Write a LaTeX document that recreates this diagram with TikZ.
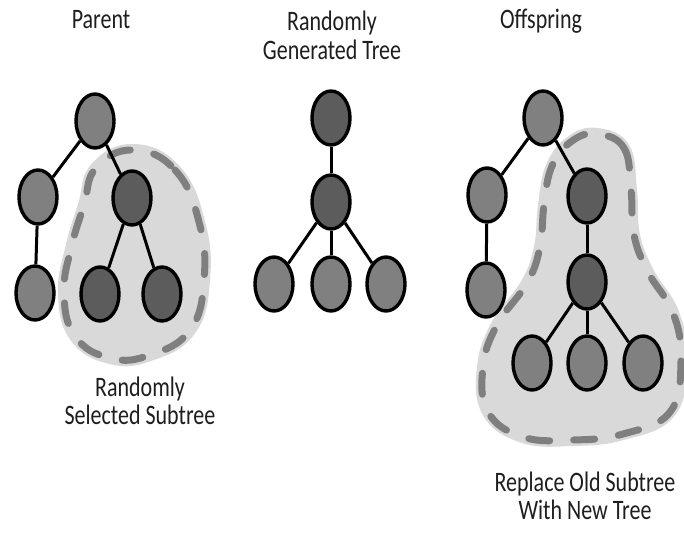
\documentclass[tikz,border=0pt]{standalone}
\usepackage{fontspec}
\setmainfont{Carlito}
\usetikzlibrary{shapes.geometric}
\definecolor{lightnode}{HTML}{808080}
\definecolor{darknode}{HTML}{5C5C5C}
\definecolor{blobfill}{HTML}{D9D9D9}
\definecolor{blobline}{HTML}{7F7F7F}
\definecolor{txt}{HTML}{1E1E1E}
\newcommand{\lbltext}[1]{\scalebox{1}[1.28]{\fontsize{22}{22}\selectfont\begin{tabular}[t]{@{}c@{}}#1\end{tabular}}}
\tikzset{
  tnode/.style={ellipse, draw=black, line width=3.4pt, inner sep=0pt, minimum width=38pt, minimum height=54pt},
  lightn/.style={tnode, fill=lightnode},
  darkn/.style={tnode, fill=darknode},
  edge/.style={draw=black, line width=3pt},
  blob/.style={preaction={fill=blobfill, draw=blobfill, solid, line width=12pt, line join=round},
               draw=blobline, line width=7pt, line cap=round, dash pattern=on 21pt off 24pt}
}
\tikzset{lbl/.style={anchor=base, inner sep=0pt, text=txt}}
\begin{document}
\begin{tikzpicture}[x=1pt,y=-1pt]
\useasboundingbox (0,0) rectangle (684,534);
% subtree regions
\path[blob] plot[smooth cycle, tension=0.75] coordinates {(133,150) (175,170) (199,222) (204,280) (190,330) (150,355) (110,358) (75,336) (64,292) (72,245) (84,205) (96,168)};
\path[blob] plot[smooth cycle, tension=0.7] coordinates {(597,134) (624,148) (631,190) (634,235) (648,272) (673,313) (681,360) (670,412) (623,434) (573,440) (523,437) (488,412) (483,367) (497,325) (527,283) (540,247) (544,205) (552,166) (572,141)};
% parent tree
\node[lightn] (p1) at (95,121) {};
\node[lightn] (p2) at (38,197) {};
\node[darkn]  (p3) at (132,198) {};
\node[lightn] (p4) at (35,293) {};
\node[darkn]  (p5) at (100,294) {};
\node[darkn]  (p6) at (162,294) {};
\draw[edge] (p1) -- (p2);
\draw[edge] (p1) -- (p3);
\draw[edge] (p2) -- (p4);
\draw[edge] (p3) -- (p5);
\draw[edge] (p3) -- (p6);
% random tree
\node[darkn]  (m1) at (331,118) {};
\node[darkn]  (m2) at (331,202) {};
\node[lightn] (m3) at (274,284) {};
\node[lightn] (m4) at (331,284) {};
\node[lightn] (m5) at (386,284) {};
\draw[edge] (m1) -- (m2);
\draw[edge] (m2) -- (m3);
\draw[edge] (m2) -- (m4);
\draw[edge] (m2) -- (m5);
% offspring
\node[lightn] (o1) at (543,118) {};
\node[lightn] (o2) at (487,195) {};
\node[darkn]  (o3) at (587,196) {};
\node[lightn] (o4) at (486,290) {};
\node[darkn]  (o5) at (587,282) {};
\node[lightn] (o6) at (532,363) {};
\node[lightn] (o7) at (587,363) {};
\node[lightn] (o8) at (643,363) {};
\draw[edge] (o1) -- (o2);
\draw[edge] (o1) -- (o3);
\draw[edge] (o2) -- (o4);
\draw[edge] (o3) -- (o5);
\draw[edge] (o5) -- (o6);
\draw[edge] (o5) -- (o7);
\draw[edge] (o5) -- (o8);
% labels
\node[lbl] (tparent) at (101,29) {\lbltext{Parent}};
\node[lbl] (trandom) at (332,31) {\lbltext{Randomly\\Generated Tree}};
\node[lbl] (toff) at (541,29) {\lbltext{Offspring}};
\node[lbl] (tsel) at (140,396) {\lbltext{Randomly\\Selected Subtree}};
\node[lbl] (trep) at (585,491) {\lbltext{Replace Old Subtree\\With New Tree}};
\end{tikzpicture}
\end{document}
